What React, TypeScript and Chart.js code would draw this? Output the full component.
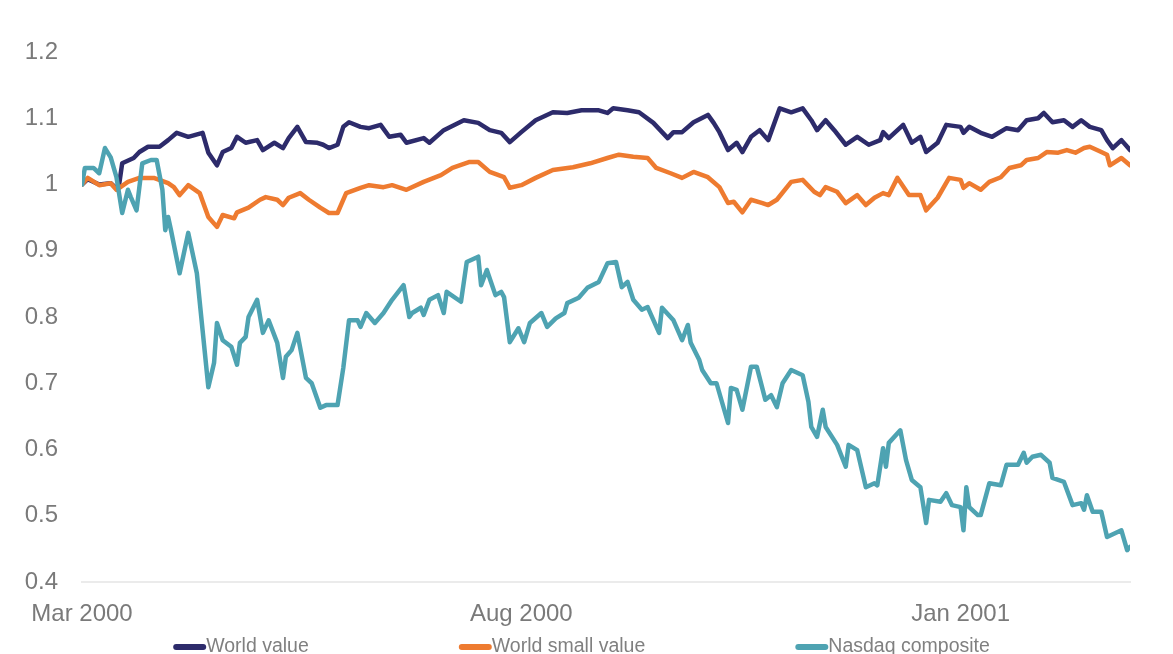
import React, { useEffect, useRef } from 'react';
import { Chart, registerables } from 'chart.js';

Chart.register(...registerables);

// ---- Data (days since 1 Mar 2000, index value rebased to 1) ----
const seriesNames = ['World value', 'World small value', 'Nasdaq composite'];
const seriesColors = ['#2d2b6b', '#ee7b30', '#4ea3b2'];

const worldValueDays = [0, 2, 6, 10, 12, 13, 14, 18, 20, 23, 27, 30, 33, 37, 42, 44, 47, 49, 52, 54, 57, 61, 63, 67, 70, 72, 75, 78, 82, 84, 86, 89, 91, 93, 97, 100, 104, 107, 111, 113, 119, 121, 126, 133, 138, 142, 146, 149, 153, 158, 164, 169, 174, 180, 183, 185, 190, 194, 199, 204, 206, 209, 213, 218, 220, 222, 225, 228, 230, 233, 236, 239, 243, 247, 251, 254, 256, 259, 262, 266, 270, 274, 278, 279, 281, 286, 289, 292, 294, 298, 301, 306, 307, 309, 313, 317, 322, 326, 329, 333, 335, 338, 342, 345, 348, 351, 355, 357, 359, 362, 365];
const worldValueValues = [1.0, 1.008, 1.0, 1.002, 0.994, 1.002, 1.032, 1.04, 1.049, 1.057, 1.057, 1.067, 1.078, 1.072, 1.078, 1.048, 1.029, 1.049, 1.055, 1.072, 1.063, 1.067, 1.052, 1.063, 1.055, 1.07, 1.087, 1.064, 1.063, 1.06, 1.055, 1.06, 1.087, 1.094, 1.087, 1.085, 1.09, 1.072, 1.075, 1.063, 1.07, 1.063, 1.082, 1.097, 1.093, 1.082, 1.078, 1.064, 1.079, 1.097, 1.109, 1.108, 1.112, 1.112, 1.108, 1.115, 1.112, 1.109, 1.093, 1.07, 1.079, 1.079, 1.094, 1.105, 1.093, 1.079, 1.052, 1.063, 1.049, 1.072, 1.082, 1.067, 1.115, 1.109, 1.115, 1.097, 1.082, 1.097, 1.082, 1.06, 1.072, 1.06, 1.067, 1.079, 1.07, 1.09, 1.063, 1.072, 1.049, 1.063, 1.09, 1.087, 1.078, 1.087, 1.078, 1.072, 1.085, 1.082, 1.097, 1.1, 1.108, 1.094, 1.097, 1.087, 1.097, 1.087, 1.082, 1.067, 1.055, 1.067, 1.052];

const worldSmallValueDays = [0, 2, 6, 10, 12, 16, 20, 25, 30, 32, 34, 37, 41, 44, 47, 49, 53, 54, 58, 62, 64, 68, 70, 72, 76, 79, 83, 86, 89, 92, 97, 100, 105, 108, 113, 119, 125, 129, 135, 138, 142, 147, 149, 153, 158, 164, 171, 177, 183, 187, 192, 197, 200, 205, 209, 213, 218, 222, 225, 227, 230, 233, 237, 239, 242, 247, 251, 255, 257, 259, 263, 266, 270, 273, 276, 279, 281, 284, 288, 292, 294, 298, 302, 306, 307, 309, 313, 316, 320, 323, 327, 329, 333, 336, 340, 343, 346, 349, 351, 355, 357, 358, 362, 365];
const worldSmallValueValues = [1.0, 1.01, 0.999, 1.002, 0.992, 1.004, 1.01, 1.01, 1.002, 0.996, 0.984, 0.999, 0.987, 0.951, 0.936, 0.954, 0.949, 0.958, 0.965, 0.977, 0.981, 0.977, 0.969, 0.98, 0.987, 0.977, 0.965, 0.957, 0.957, 0.987, 0.995, 0.999, 0.996, 0.999, 0.992, 1.004, 1.014, 1.025, 1.034, 1.034, 1.019, 1.011, 0.995, 0.999, 1.01, 1.022, 1.026, 1.032, 1.04, 1.045, 1.042, 1.04, 1.025, 1.017, 1.01, 1.019, 1.011, 0.996, 0.972, 0.974, 0.958, 0.977, 0.972, 0.969, 0.977, 1.004, 1.007, 0.989, 0.984, 0.996, 0.989, 0.972, 0.984, 0.969, 0.98, 0.987, 0.984, 1.01, 0.984, 0.984, 0.961, 0.98, 1.01, 1.007, 0.995, 1.002, 0.992, 1.004, 1.011, 1.025, 1.029, 1.037, 1.04, 1.049, 1.048, 1.052, 1.048, 1.055, 1.057, 1.049, 1.045, 1.029, 1.04, 1.029];

const nasdaqDays = [0, 1, 4, 6, 8, 10, 12, 14, 16, 17, 19, 21, 24, 26, 28, 29, 30, 31, 34, 37, 40, 42, 44, 46, 47, 49, 52, 54, 55, 57, 58, 61, 63, 65, 68, 70, 71, 73, 75, 78, 80, 83, 85, 89, 91, 93, 96, 97, 99, 102, 105, 108, 112, 114, 115, 118, 119, 121, 124, 126, 127, 132, 134, 138, 139, 141, 144, 146, 147, 149, 152, 154, 156, 160, 162, 165, 168, 169, 173, 176, 180, 183, 186, 188, 190, 192, 195, 197, 201, 202, 206, 209, 211, 212, 215, 216, 219, 221, 225, 226, 228, 230, 233, 235, 238, 240, 242, 244, 247, 251, 253, 254, 256, 258, 259, 263, 266, 267, 270, 273, 276, 277, 279, 280, 281, 285, 287, 289, 292, 294, 295, 299, 301, 303, 306, 307, 308, 309, 312, 313, 316, 320, 322, 326, 328, 329, 331, 334, 337, 338, 342, 345, 348, 349, 350, 352, 355, 357, 362, 364, 365];
const nasdaqValues = [1.0, 1.025, 1.025, 1.017, 1.055, 1.041, 1.011, 0.957, 0.992, 0.981, 0.961, 1.032, 1.037, 1.037, 0.992, 0.931, 0.951, 0.931, 0.866, 0.927, 0.866, 0.78, 0.694, 0.731, 0.791, 0.765, 0.755, 0.728, 0.761, 0.77, 0.8, 0.826, 0.776, 0.795, 0.761, 0.708, 0.74, 0.75, 0.776, 0.708, 0.7, 0.663, 0.667, 0.667, 0.723, 0.795, 0.795, 0.785, 0.806, 0.791, 0.806, 0.826, 0.848, 0.8, 0.806, 0.814, 0.803, 0.826, 0.833, 0.806, 0.838, 0.823, 0.883, 0.891, 0.848, 0.871, 0.833, 0.838, 0.83, 0.762, 0.783, 0.762, 0.791, 0.806, 0.785, 0.798, 0.806, 0.821, 0.829, 0.844, 0.853, 0.881, 0.883, 0.845, 0.853, 0.826, 0.811, 0.815, 0.776, 0.814, 0.795, 0.765, 0.788, 0.761, 0.735, 0.72, 0.7, 0.7, 0.64, 0.693, 0.69, 0.66, 0.725, 0.725, 0.675, 0.682, 0.664, 0.7, 0.72, 0.712, 0.672, 0.634, 0.619, 0.66, 0.634, 0.607, 0.574, 0.607, 0.599, 0.543, 0.549, 0.546, 0.602, 0.574, 0.61, 0.629, 0.584, 0.554, 0.543, 0.489, 0.524, 0.521, 0.534, 0.516, 0.513, 0.478, 0.543, 0.513, 0.501, 0.501, 0.549, 0.546, 0.577, 0.577, 0.595, 0.58, 0.589, 0.592, 0.58, 0.557, 0.551, 0.516, 0.519, 0.509, 0.531, 0.506, 0.506, 0.468, 0.478, 0.448, 0.453];

const xTickDays = [0, 153, 306];
const xTickLabels = ['Mar 2000', 'Aug 2000', 'Jan 2001'];
const yTickValues = [0.4, 0.5, 0.6, 0.7, 0.8, 0.9, 1.0, 1.1, 1.2];
const yTickLabels = ['0.4', '0.5', '0.6', '0.7', '0.8', '0.9', '1', '1.1', '1.2'];

const FONT = '"Liberation Sans", Arial, Helvetica, sans-serif';
const TEXT_GREY = '#7a7a7a';

const toPoints = (days: number[], vals: number[]) => days.map((d, i) => ({ x: d, y: vals[i] }));

const bottomLegend = {
  id: 'bottomLegend',
  afterDraw(chart: any) {
    const ctx = chart.ctx as CanvasRenderingContext2D;
    ctx.save();
    ctx.font = `19.5px ${FONT}`;
    const sw = 33;
    const gap = 150;
    const items = chart.data.datasets.map((ds: any) => ({
      label: ds.label as string,
      color: ds.borderColor as string,
      w: sw + ctx.measureText(ds.label).width,
    }));
    const total = items.reduce((a: number, b: any) => a + b.w, 0) + gap * (items.length - 1);
    let x = chart.width / 2 - 5 - total / 2;
    const y = chart.height - 7;
    items.forEach((it: any) => {
      ctx.strokeStyle = it.color;
      ctx.lineWidth = 6;
      ctx.lineCap = 'round';
      ctx.beginPath();
      ctx.moveTo(x + 3, y);
      ctx.lineTo(x + sw - 3, y);
      ctx.stroke();
      ctx.fillStyle = '#808080';
      ctx.textBaseline = 'middle';
      ctx.textAlign = 'left';
      ctx.fillText(it.label, x + sw, y);
      x += it.w + gap;
    });
    ctx.restore();
  },
};

export default function App() {
  const canvasRef = useRef<HTMLCanvasElement | null>(null);

  useEffect(() => {
    if (!canvasRef.current) return;
    Chart.defaults.font.family = FONT;
    const allDays = [worldValueDays, worldSmallValueDays, nasdaqDays];
    const allVals = [worldValueValues, worldSmallValueValues, nasdaqValues];
    const chart = new Chart(canvasRef.current, {
      type: 'line',
      data: {
        datasets: seriesNames.map((name, i) => ({
          label: name,
          data: toPoints(allDays[i], allVals[i]),
          borderColor: seriesColors[i],
          backgroundColor: seriesColors[i],
          borderWidth: 4.5,
          pointRadius: 0,
          tension: 0,
          fill: false,
          borderJoinStyle: 'round' as const,
          borderCapStyle: 'round' as const,
          order: 3 - i,
        })),
      },
      options: {
        animation: false,
        responsive: true,
        maintainAspectRatio: false,
        layout: { padding: { top: 52, right: 43, bottom: 22, left: 0 } },
        plugins: {
          legend: { display: false },
          tooltip: { enabled: false },
        },
        scales: {
          x: {
            type: 'linear',
            min: 0,
            max: 365,
            grid: { display: false, drawTicks: false },
            border: { display: true, color: '#ebebeb', width: 2 },
            afterBuildTicks: (scale: any) => {
              scale.ticks = xTickDays.map((v) => ({ value: v }));
            },
            afterFit: (scale: any) => {
              scale.height = 50;
            },
            ticks: {
              autoSkip: false,
              maxRotation: 0,
              padding: 18,
              color: TEXT_GREY,
              font: { size: 24, family: FONT },
              callback: (v: any) => {
                const idx = xTickDays.indexOf(Number(v));
                return idx >= 0 ? xTickLabels[idx] : '';
              },
            },
          },
          y: {
            type: 'linear',
            min: 0.4,
            max: 1.2,
            grid: { display: false, drawTicks: false },
            border: { display: false },
            afterBuildTicks: (scale: any) => {
              scale.ticks = yTickValues.map((v) => ({ value: v }));
            },
            afterFit: (scale: any) => {
              scale.width = 82;
            },
            ticks: {
              padding: 24,
              color: TEXT_GREY,
              font: { size: 24, family: FONT },
              callback: (v: any) => {
                const idx = yTickValues.findIndex((t) => Math.abs(t - Number(v)) < 1e-6);
                return idx >= 0 ? yTickLabels[idx] : '';
              },
            },
          },
        },
      },
      plugins: [bottomLegend],
    });
    return () => chart.destroy();
  }, []);

  return (
    <div style={{ position: 'fixed', left: 0, top: 0, width: 1173, height: 654, background: '#ffffff' }}>
      <canvas ref={canvasRef} />
    </div>
  );
}
